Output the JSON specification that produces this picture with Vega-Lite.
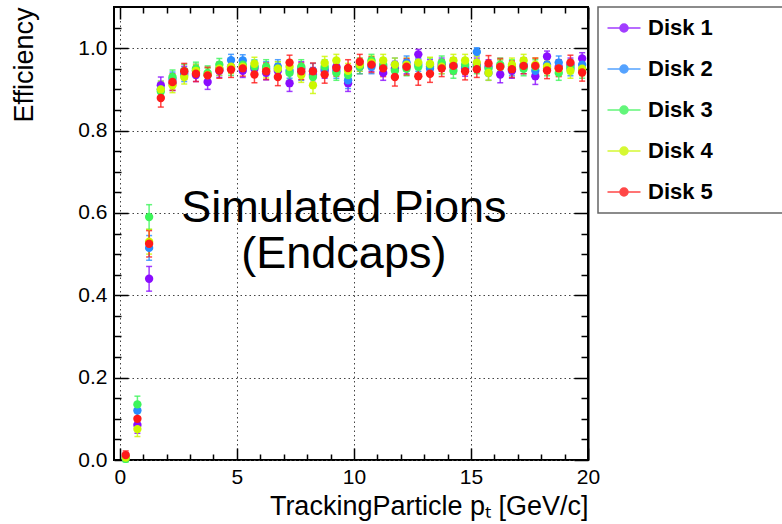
{
  "$schema": "https://vega.github.io/schema/vega-lite/v6.json",
  "width": 474,
  "height": 453,
  "autosize": {"type": "none"},
  "padding": {"left": 114, "top": 7, "right": 194, "bottom": 64},
  "background": "white",
  "config": {
    "font": "Liberation Sans",
    "view": {"stroke": "black", "strokeWidth": 2},
    "axis": {
      "labelFont": "Liberation Sans",
      "labelFontSize": 21,
      "labelColor": "black",
      "titleFont": "Liberation Sans",
      "titleFontSize": 27,
      "titleFontWeight": "normal",
      "titleColor": "black",
      "ticks": true,
      "tickColor": "black",
      "tickOpacity": 1,
      "tickWidth": 1.5,
      "domain": false
    },
    "legend": {
      "orient": "none",
      "legendX": 484,
      "legendY": 0,
      "padding": 10,
      "strokeColor": "#666666",
      "strokeWidth": 1.5,
      "fillColor": "white",
      "labelFont": "Liberation Sans",
      "labelFontSize": 22,
      "labelFontWeight": "bold",
      "labelColor": "black",
      "labelLimit": 400,
      "labelOffset": 13,
      "symbolOffset": 5,
      "symbolSize": 400,
      "rowPadding": 19,
      "titleOrient": "right",
      "titleFont": "Liberation Sans",
      "titleFontSize": 25,
      "titleFontWeight": "normal",
      "titleColor": "white",
      "titleLimit": 400,
      "titlePadding": 0,
      "symbolType": "M-1.65,0L1.65,0M-0.4,0A0.4,0.4,0,1,0,0.4,0A0.4,0.4,0,1,0,-0.4,0Z"
    }
  },
  "data": {
    "values": [
      {"disk":"Disk 1","pt":0.25,"eff":0.005,"err":0.008},{"disk":"Disk 1","pt":0.75,"eff":0.085,"err":0.02},{"disk":"Disk 1","pt":1.25,"eff":0.44,"err":0.03},{"disk":"Disk 1","pt":1.75,"eff":0.91,"err":0.02},{"disk":"Disk 1","pt":2.25,"eff":0.915,"err":0.018},{"disk":"Disk 1","pt":2.75,"eff":0.94,"err":0.016},{"disk":"Disk 1","pt":3.25,"eff":0.935,"err":0.016},{"disk":"Disk 1","pt":3.75,"eff":0.918,"err":0.018},{"disk":"Disk 1","pt":4.25,"eff":0.945,"err":0.016},{"disk":"Disk 1","pt":4.75,"eff":0.955,"err":0.015},
      {"disk":"Disk 1","pt":5.25,"eff":0.945,"err":0.016},{"disk":"Disk 1","pt":5.75,"eff":0.95,"err":0.016},{"disk":"Disk 1","pt":6.25,"eff":0.94,"err":0.017},{"disk":"Disk 1","pt":6.75,"eff":0.945,"err":0.017},{"disk":"Disk 1","pt":7.25,"eff":0.915,"err":0.02},{"disk":"Disk 1","pt":7.75,"eff":0.95,"err":0.017},{"disk":"Disk 1","pt":8.25,"eff":0.935,"err":0.018},{"disk":"Disk 1","pt":8.75,"eff":0.945,"err":0.018},{"disk":"Disk 1","pt":9.25,"eff":0.955,"err":0.017},{"disk":"Disk 1","pt":9.75,"eff":0.915,"err":0.02},
      {"disk":"Disk 1","pt":10.25,"eff":0.955,"err":0.017},{"disk":"Disk 1","pt":10.75,"eff":0.96,"err":0.016},{"disk":"Disk 1","pt":11.25,"eff":0.94,"err":0.018},{"disk":"Disk 1","pt":11.75,"eff":0.95,"err":0.018},{"disk":"Disk 1","pt":12.25,"eff":0.955,"err":0.017},{"disk":"Disk 1","pt":12.75,"eff":0.985,"err":0.012},{"disk":"Disk 1","pt":13.25,"eff":0.955,"err":0.017},{"disk":"Disk 1","pt":13.75,"eff":0.96,"err":0.016},{"disk":"Disk 1","pt":14.25,"eff":0.955,"err":0.017},{"disk":"Disk 1","pt":14.75,"eff":0.95,"err":0.018},
      {"disk":"Disk 1","pt":15.25,"eff":0.96,"err":0.016},{"disk":"Disk 1","pt":15.75,"eff":0.955,"err":0.017},{"disk":"Disk 1","pt":16.25,"eff":0.936,"err":0.02},{"disk":"Disk 1","pt":16.75,"eff":0.945,"err":0.018},{"disk":"Disk 1","pt":17.25,"eff":0.955,"err":0.017},{"disk":"Disk 1","pt":17.75,"eff":0.932,"err":0.02},{"disk":"Disk 1","pt":18.25,"eff":0.98,"err":0.013},{"disk":"Disk 1","pt":18.75,"eff":0.955,"err":0.017},{"disk":"Disk 1","pt":19.25,"eff":0.96,"err":0.016},{"disk":"Disk 1","pt":19.75,"eff":0.975,"err":0.014},
      {"disk":"Disk 2","pt":0.25,"eff":0.008,"err":0.008},{"disk":"Disk 2","pt":0.75,"eff":0.12,"err":0.02},{"disk":"Disk 2","pt":1.25,"eff":0.515,"err":0.03},{"disk":"Disk 2","pt":1.75,"eff":0.9,"err":0.02},{"disk":"Disk 2","pt":2.25,"eff":0.925,"err":0.017},{"disk":"Disk 2","pt":2.75,"eff":0.935,"err":0.016},{"disk":"Disk 2","pt":3.25,"eff":0.945,"err":0.016},{"disk":"Disk 2","pt":3.75,"eff":0.935,"err":0.017},{"disk":"Disk 2","pt":4.25,"eff":0.95,"err":0.016},{"disk":"Disk 2","pt":4.75,"eff":0.971,"err":0.014},
      {"disk":"Disk 2","pt":5.25,"eff":0.97,"err":0.014},{"disk":"Disk 2","pt":5.75,"eff":0.955,"err":0.016},{"disk":"Disk 2","pt":6.25,"eff":0.95,"err":0.017},{"disk":"Disk 2","pt":6.75,"eff":0.955,"err":0.017},{"disk":"Disk 2","pt":7.25,"eff":0.945,"err":0.018},{"disk":"Disk 2","pt":7.75,"eff":0.94,"err":0.018},{"disk":"Disk 2","pt":8.25,"eff":0.945,"err":0.018},{"disk":"Disk 2","pt":8.75,"eff":0.95,"err":0.017},{"disk":"Disk 2","pt":9.25,"eff":0.945,"err":0.018},{"disk":"Disk 2","pt":9.75,"eff":0.922,"err":0.02},
      {"disk":"Disk 2","pt":10.25,"eff":0.96,"err":0.016},{"disk":"Disk 2","pt":10.75,"eff":0.955,"err":0.017},{"disk":"Disk 2","pt":11.25,"eff":0.955,"err":0.017},{"disk":"Disk 2","pt":11.75,"eff":0.96,"err":0.016},{"disk":"Disk 2","pt":12.25,"eff":0.965,"err":0.016},{"disk":"Disk 2","pt":12.75,"eff":0.96,"err":0.016},{"disk":"Disk 2","pt":13.25,"eff":0.95,"err":0.017},{"disk":"Disk 2","pt":13.75,"eff":0.955,"err":0.017},{"disk":"Disk 2","pt":14.25,"eff":0.96,"err":0.016},{"disk":"Disk 2","pt":14.75,"eff":0.955,"err":0.017},
      {"disk":"Disk 2","pt":15.25,"eff":0.991,"err":0.01},{"disk":"Disk 2","pt":15.75,"eff":0.94,"err":0.018},{"disk":"Disk 2","pt":16.25,"eff":0.955,"err":0.017},{"disk":"Disk 2","pt":16.75,"eff":0.95,"err":0.017},{"disk":"Disk 2","pt":17.25,"eff":0.96,"err":0.016},{"disk":"Disk 2","pt":17.75,"eff":0.945,"err":0.018},{"disk":"Disk 2","pt":18.25,"eff":0.96,"err":0.016},{"disk":"Disk 2","pt":18.75,"eff":0.965,"err":0.016},{"disk":"Disk 2","pt":19.25,"eff":0.95,"err":0.017},{"disk":"Disk 2","pt":19.75,"eff":0.96,"err":0.016},
      {"disk":"Disk 3","pt":0.25,"eff":0.003,"err":0.008},{"disk":"Disk 3","pt":0.75,"eff":0.135,"err":0.02},{"disk":"Disk 3","pt":1.25,"eff":0.59,"err":0.03},{"disk":"Disk 3","pt":1.75,"eff":0.895,"err":0.02},{"disk":"Disk 3","pt":2.25,"eff":0.93,"err":0.017},{"disk":"Disk 3","pt":2.75,"eff":0.945,"err":0.016},{"disk":"Disk 3","pt":3.25,"eff":0.95,"err":0.016},{"disk":"Disk 3","pt":3.75,"eff":0.94,"err":0.017},{"disk":"Disk 3","pt":4.25,"eff":0.96,"err":0.015},{"disk":"Disk 3","pt":4.75,"eff":0.95,"err":0.016},
      {"disk":"Disk 3","pt":5.25,"eff":0.96,"err":0.016},{"disk":"Disk 3","pt":5.75,"eff":0.955,"err":0.016},{"disk":"Disk 3","pt":6.25,"eff":0.955,"err":0.017},{"disk":"Disk 3","pt":6.75,"eff":0.95,"err":0.017},{"disk":"Disk 3","pt":7.25,"eff":0.94,"err":0.018},{"disk":"Disk 3","pt":7.75,"eff":0.955,"err":0.017},{"disk":"Disk 3","pt":8.25,"eff":0.93,"err":0.019},{"disk":"Disk 3","pt":8.75,"eff":0.955,"err":0.017},{"disk":"Disk 3","pt":9.25,"eff":0.94,"err":0.018},{"disk":"Disk 3","pt":9.75,"eff":0.935,"err":0.019},
      {"disk":"Disk 3","pt":10.25,"eff":0.955,"err":0.017},{"disk":"Disk 3","pt":10.75,"eff":0.97,"err":0.015},{"disk":"Disk 3","pt":11.25,"eff":0.96,"err":0.016},{"disk":"Disk 3","pt":11.75,"eff":0.945,"err":0.018},{"disk":"Disk 3","pt":12.25,"eff":0.95,"err":0.017},{"disk":"Disk 3","pt":12.75,"eff":0.955,"err":0.017},{"disk":"Disk 3","pt":13.25,"eff":0.96,"err":0.016},{"disk":"Disk 3","pt":13.75,"eff":0.965,"err":0.016},{"disk":"Disk 3","pt":14.25,"eff":0.945,"err":0.018},{"disk":"Disk 3","pt":14.75,"eff":0.96,"err":0.016},
      {"disk":"Disk 3","pt":15.25,"eff":0.955,"err":0.017},{"disk":"Disk 3","pt":15.75,"eff":0.95,"err":0.017},{"disk":"Disk 3","pt":16.25,"eff":0.96,"err":0.016},{"disk":"Disk 3","pt":16.75,"eff":0.955,"err":0.017},{"disk":"Disk 3","pt":17.25,"eff":0.95,"err":0.017},{"disk":"Disk 3","pt":17.75,"eff":0.955,"err":0.017},{"disk":"Disk 3","pt":18.25,"eff":0.95,"err":0.017},{"disk":"Disk 3","pt":18.75,"eff":0.94,"err":0.018},{"disk":"Disk 3","pt":19.25,"eff":0.955,"err":0.017},{"disk":"Disk 3","pt":19.75,"eff":0.945,"err":0.018},
      {"disk":"Disk 4","pt":0.25,"eff":0.006,"err":0.008},{"disk":"Disk 4","pt":0.75,"eff":0.075,"err":0.018},{"disk":"Disk 4","pt":1.25,"eff":0.53,"err":0.03},{"disk":"Disk 4","pt":1.75,"eff":0.9,"err":0.02},{"disk":"Disk 4","pt":2.25,"eff":0.91,"err":0.018},{"disk":"Disk 4","pt":2.75,"eff":0.93,"err":0.017},{"disk":"Disk 4","pt":3.25,"eff":0.945,"err":0.016},{"disk":"Disk 4","pt":3.75,"eff":0.935,"err":0.017},{"disk":"Disk 4","pt":4.25,"eff":0.95,"err":0.016},{"disk":"Disk 4","pt":4.75,"eff":0.955,"err":0.016},
      {"disk":"Disk 4","pt":5.25,"eff":0.955,"err":0.016},{"disk":"Disk 4","pt":5.75,"eff":0.962,"err":0.016},{"disk":"Disk 4","pt":6.25,"eff":0.945,"err":0.017},{"disk":"Disk 4","pt":6.75,"eff":0.95,"err":0.017},{"disk":"Disk 4","pt":7.25,"eff":0.955,"err":0.017},{"disk":"Disk 4","pt":7.75,"eff":0.935,"err":0.018},{"disk":"Disk 4","pt":8.25,"eff":0.91,"err":0.02},{"disk":"Disk 4","pt":8.75,"eff":0.964,"err":0.016},{"disk":"Disk 4","pt":9.25,"eff":0.97,"err":0.015},{"disk":"Disk 4","pt":9.75,"eff":0.945,"err":0.018},
      {"disk":"Disk 4","pt":10.25,"eff":0.96,"err":0.016},{"disk":"Disk 4","pt":10.75,"eff":0.965,"err":0.016},{"disk":"Disk 4","pt":11.25,"eff":0.97,"err":0.015},{"disk":"Disk 4","pt":11.75,"eff":0.96,"err":0.016},{"disk":"Disk 4","pt":12.25,"eff":0.96,"err":0.016},{"disk":"Disk 4","pt":12.75,"eff":0.965,"err":0.016},{"disk":"Disk 4","pt":13.25,"eff":0.962,"err":0.016},{"disk":"Disk 4","pt":13.75,"eff":0.955,"err":0.017},{"disk":"Disk 4","pt":14.25,"eff":0.97,"err":0.015},{"disk":"Disk 4","pt":14.75,"eff":0.97,"err":0.015},
      {"disk":"Disk 4","pt":15.25,"eff":0.965,"err":0.016},{"disk":"Disk 4","pt":15.75,"eff":0.94,"err":0.018},{"disk":"Disk 4","pt":16.25,"eff":0.955,"err":0.017},{"disk":"Disk 4","pt":16.75,"eff":0.96,"err":0.016},{"disk":"Disk 4","pt":17.25,"eff":0.97,"err":0.015},{"disk":"Disk 4","pt":17.75,"eff":0.96,"err":0.016},{"disk":"Disk 4","pt":18.25,"eff":0.955,"err":0.017},{"disk":"Disk 4","pt":18.75,"eff":0.95,"err":0.017},{"disk":"Disk 4","pt":19.25,"eff":0.945,"err":0.018},{"disk":"Disk 4","pt":19.75,"eff":0.95,"err":0.017},
      {"disk":"Disk 5","pt":0.25,"eff":0.012,"err":0.01},{"disk":"Disk 5","pt":0.75,"eff":0.1,"err":0.02},{"disk":"Disk 5","pt":1.25,"eff":0.525,"err":0.032},{"disk":"Disk 5","pt":1.75,"eff":0.879,"err":0.022},{"disk":"Disk 5","pt":2.25,"eff":0.918,"err":0.02},{"disk":"Disk 5","pt":2.75,"eff":0.944,"err":0.019},{"disk":"Disk 5","pt":3.25,"eff":0.938,"err":0.019},{"disk":"Disk 5","pt":3.75,"eff":0.934,"err":0.02},{"disk":"Disk 5","pt":4.25,"eff":0.946,"err":0.019},{"disk":"Disk 5","pt":4.75,"eff":0.948,"err":0.019},
      {"disk":"Disk 5","pt":5.25,"eff":0.951,"err":0.019},{"disk":"Disk 5","pt":5.75,"eff":0.936,"err":0.02},{"disk":"Disk 5","pt":6.25,"eff":0.944,"err":0.02},{"disk":"Disk 5","pt":6.75,"eff":0.93,"err":0.021},{"disk":"Disk 5","pt":7.25,"eff":0.965,"err":0.018},{"disk":"Disk 5","pt":7.75,"eff":0.944,"err":0.02},{"disk":"Disk 5","pt":8.25,"eff":0.944,"err":0.02},{"disk":"Disk 5","pt":8.75,"eff":0.936,"err":0.021},{"disk":"Disk 5","pt":9.25,"eff":0.952,"err":0.02},{"disk":"Disk 5","pt":9.75,"eff":0.952,"err":0.02},
      {"disk":"Disk 5","pt":10.25,"eff":0.967,"err":0.018},{"disk":"Disk 5","pt":10.75,"eff":0.96,"err":0.019},{"disk":"Disk 5","pt":11.25,"eff":0.951,"err":0.02},{"disk":"Disk 5","pt":11.75,"eff":0.93,"err":0.022},{"disk":"Disk 5","pt":12.25,"eff":0.955,"err":0.02},{"disk":"Disk 5","pt":12.75,"eff":0.932,"err":0.022},{"disk":"Disk 5","pt":13.25,"eff":0.938,"err":0.021},{"disk":"Disk 5","pt":13.75,"eff":0.951,"err":0.02},{"disk":"Disk 5","pt":14.25,"eff":0.957,"err":0.019},{"disk":"Disk 5","pt":14.75,"eff":0.944,"err":0.021},
      {"disk":"Disk 5","pt":15.25,"eff":0.949,"err":0.02},{"disk":"Disk 5","pt":15.75,"eff":0.963,"err":0.019},{"disk":"Disk 5","pt":16.25,"eff":0.955,"err":0.02},{"disk":"Disk 5","pt":16.75,"eff":0.949,"err":0.02},{"disk":"Disk 5","pt":17.25,"eff":0.957,"err":0.019},{"disk":"Disk 5","pt":17.75,"eff":0.957,"err":0.019},{"disk":"Disk 5","pt":18.25,"eff":0.946,"err":0.02},{"disk":"Disk 5","pt":18.75,"eff":0.951,"err":0.02},{"disk":"Disk 5","pt":19.25,"eff":0.965,"err":0.018},{"disk":"Disk 5","pt":19.75,"eff":0.941,"err":0.021}
    ]
  },
  "layer": [
    {
      "mark": {"type": "errorbar", "ticks": {"size": 6, "thickness": 1.5}, "thickness": 1.5, "opacity": 0.8},
      "encoding": {
        "x": {
          "field": "pt", "type": "quantitative",
          "scale": {"domain": [-0.25, 20], "nice": false, "zero": false},
          "axis": {
            "orient": "bottom",
            "values": [0,1,2,3,4,5,6,7,8,9,10,11,12,13,14,15,16,17,18,19,20],
            "labelExpr": "datum.value % 5 === 0 ? datum.label : ''",
            "labelFlush": false,
            "labelOverlap": false,
            "labelPadding": 18,
            "ticks": true,
            "tickSize": {"condition": {"test": "datum.value % 5 === 0", "value": -12}, "value": -6},
            "grid": true,
            "gridOpacity": {"condition": {"test": "datum.value % 5 === 0", "value": 1}, "value": 0},
            "gridDash": [1.5, 3],
            "gridColor": "#444444",
            "gridWidth": 1,
            "title": "TrackingParticle pₜ [GeV/c]",
            "titleAnchor": "end",
            "titlePadding": 0
          }
        },
        "y": {
          "field": "eff", "type": "quantitative",
          "scale": {"domain": [0, 1.1], "nice": false, "zero": false},
          "axis": {
            "orient": "left",
            "values": [0,0.05,0.1,0.15,0.2,0.25,0.3,0.35,0.4,0.45,0.5,0.55,0.6,0.65,0.7,0.75,0.8,0.85,0.9,0.95,1.0,1.05],
            "labelExpr": "abs(datum.value*5 - round(datum.value*5)) < 0.001 ? format(datum.value, '.1f') : ''",
            "labelOverlap": false,
            "labelFlush": false,
            "labelPadding": 21,
            "ticks": true,
            "tickSize": {"condition": {"test": "abs(datum.value*5 - round(datum.value*5)) < 0.001", "value": -14}, "value": -7},
            "grid": true,
            "gridOpacity": {"condition": {"test": "abs(datum.value*5 - round(datum.value*5)) < 0.001", "value": 1}, "value": 0},
            "gridDash": [1.5, 3],
            "gridColor": "#444444",
            "gridWidth": 1,
            "title": "Efficiency",
            "titleAnchor": "end",
            "titlePadding": 39
          }
        },
        "yError": {"field": "err"},
        "color": {
          "field": "disk", "type": "nominal",
          "scale": {"domain": ["Disk 1","Disk 2","Disk 3","Disk 4","Disk 5"], "range": ["#8a0cff","#2a8cff","#3cf55a","#ccf700","#ff1a1a"]},
          "legend": {
            "title": "MMM",
            "titleOrient": "right",
            "titleColor": "white",
            "encode": {
              "symbols": {
                "update": {
                  "stroke": {"scale": "color", "field": "value"},
                  "strokeWidth": {"value": 1.5},
                  "strokeOpacity": {"value": 0.55},
                  "fillOpacity": {"value": 1},
                  "opacity": {"value": 1}
                }
              }
            }
          }
        }
      }
    },
    {
      "mark": {"type": "errorbar", "thickness": 1.5, "opacity": 0.8},
      "encoding": {
        "x": {"field": "pt", "type": "quantitative", "axis": null},
        "xError": {"value": 0.25},
        "y": {"field": "eff", "type": "quantitative", "axis": null},
        "color": {"field": "disk", "type": "nominal"}
      }
    },
    {
      "mark": {"type": "point", "filled": true, "size": 70, "opacity": 1},
      "encoding": {
        "x": {
          "field": "pt", "type": "quantitative",
          "axis": {
            "orient": "top",
            "values": [0,1,2,3,4,5,6,7,8,9,10,11,12,13,14,15,16,17,18,19,20],
            "labels": false,
            "grid": false,
            "title": null,
            "ticks": true,
            "tickSize": {"condition": {"test": "datum.value % 5 === 0", "value": -12}, "value": -6}
          }
        },
        "y": {
          "field": "eff", "type": "quantitative",
          "axis": {
            "orient": "right",
            "values": [0,0.05,0.1,0.15,0.2,0.25,0.3,0.35,0.4,0.45,0.5,0.55,0.6,0.65,0.7,0.75,0.8,0.85,0.9,0.95,1.0,1.05],
            "labels": false,
            "grid": false,
            "title": null,
            "ticks": true,
            "domain": true,
            "domainColor": "black",
            "domainWidth": 2,
            "tickSize": {"condition": {"test": "abs(datum.value*5 - round(datum.value*5)) < 0.001", "value": -14}, "value": -7}
          }
        },
        "color": {"field": "disk", "type": "nominal"}
      }
    },
    {
      "data": {"values": [{}]},
      "mark": {"type": "text", "font": "Liberation Sans", "fontSize": 45, "align": "center", "baseline": "alphabetic", "lineHeight": 46, "color": "black"},
      "encoding": {
        "x": {"datum": 9.57, "type": "quantitative", "axis": null},
        "y": {"datum": 0.577, "type": "quantitative", "axis": null},
        "text": {"value": ["Simulated Pions", "(Endcaps)"]}
      }
    }
  ],
  "resolve": {"axis": {"x": "independent", "y": "independent"}}
}
